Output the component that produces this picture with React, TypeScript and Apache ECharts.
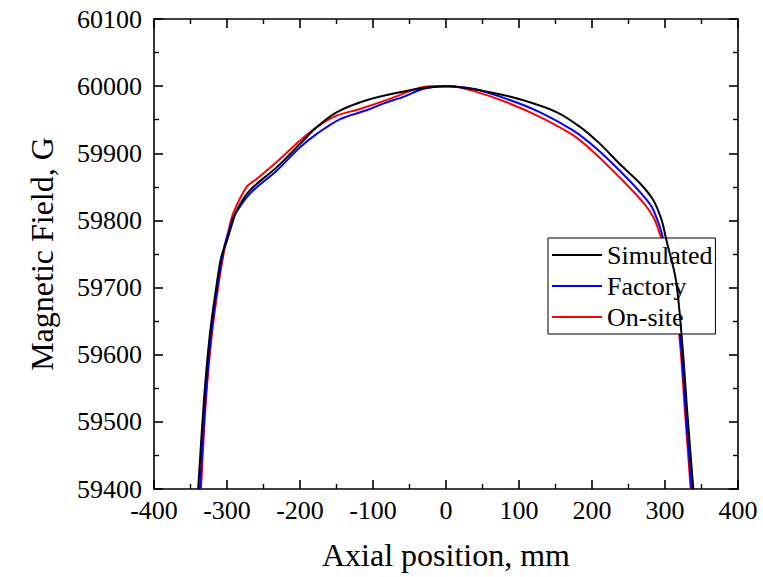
import React, { useEffect, useRef } from "react";
import * as echarts from "echarts";

const seriesNames = ["Simulated", "Factory", "On-site"];
const seriesColors = ["#000000", "#0000ff", "#ff0000"];

const simulatedX = [-339.5, -331.5, -323.3, -314, -308, -300, -293, -286.7, -268.5, -232, -200, -177, -150, -109, -63, -26, 5, 60, 106, 152, 184, 211, 238, 266, 284, 295.5, 302, 315, 324, 330.6, 338.8];
const simulatedY = [59400, 59533, 59632, 59706, 59745, 59770, 59795, 59815, 59845, 59879, 59914, 59939, 59961, 59979, 59991, 59998, 60000, 59991, 59979, 59961, 59939, 59914, 59884, 59855, 59830, 59800, 59770, 59711, 59612, 59513, 59400];

const factoryX = [-337, -329.5, -321.5, -312.5, -304, -297, -291, -268.5, -232, -200, -177, -145, -109, -86, -58.5, -31, -4, 37, 83, 129, 174, 206, 238, 266, 282, 293, 298, 312, 322, 328.5, 336.5];
const factoryY = [59400, 59533, 59632, 59706, 59760, 59785, 59805, 59840, 59874, 59909, 59929, 59951, 59964, 59974, 59984, 59996, 60000, 59996, 59981, 59961, 59934, 59907, 59874, 59842, 59820, 59790, 59770, 59711, 59612, 59513, 59400];

const onsiteX = [-335.6, -328.8, -320.5, -311.4, -303, -298, -291, -273, -259, -232, -200, -177, -150, -118, -77, -41, -22, 5, 37, 83, 129, 174, 202, 238, 270, 284, 293, 297, 311, 321, 327.5, 335.2];
const onsiteY = [59400, 59533, 59632, 59706, 59760, 59785, 59812, 59850, 59862, 59887, 59919, 59939, 59956, 59966, 59981, 59996, 60000, 60000, 59993, 59976, 59954, 59927, 59902, 59864, 59827, 59805, 59780, 59765, 59711, 59612, 59513, 59400];

const xMin = -400, xMax = 400, xStep = 100;
const yMin = 59400, yMax = 60100, yStep = 100;

const FONT = "Liberation Serif, Times New Roman, serif";

export default function App() {
  const ref = useRef<HTMLDivElement>(null);
  useEffect(() => {
    if (!ref.current) return;
    const chart = echarts.init(ref.current, undefined, { renderer: "svg" });
    const xs = [simulatedX, factoryX, onsiteX];
    const ys = [simulatedY, factoryY, onsiteY];
    const axisLine = { show: true, onZero: false, lineStyle: { color: "#000", width: 1.6 } };
    const tick = { show: true, inside: true, length: 9, lineStyle: { color: "#000", width: 1.6 } };
    const minor = { show: true, splitNumber: 2, length: 5, lineStyle: { color: "#000", width: 1.4 } };
    const labelStyle = { fontFamily: FONT, fontSize: 26, color: "#000" };
    chart.setOption({
      animation: false,
      backgroundColor: "#ffffff",
      textStyle: { fontFamily: FONT },
      grid: { left: 154, right: 25, top: 19, bottom: 88, containLabel: false },
      legend: {
        orient: "vertical",
        left: 548,
        top: 238,
        data: seriesNames,
        itemWidth: 50,
        itemHeight: 2,
        itemGap: 5,
        padding: [4, 3, 4, 4],
        borderColor: "#000",
        borderWidth: 1,
        borderRadius: 0,
        backgroundColor: "#ffffff",
        icon: "rect",
        textStyle: { fontFamily: FONT, fontSize: 26, color: "#000", lineHeight: 26 },
      },
      xAxis: [
        {
          type: "value",
          min: xMin,
          max: xMax,
          interval: xStep,
          position: "bottom",
          name: "Axial position, mm",
          nameLocation: "middle",
          nameGap: 50,
          nameTextStyle: { fontFamily: FONT, fontSize: 32, color: "#000" },
          axisLine,
          axisTick: tick,
          minorTick: minor,
          splitLine: { show: false },
          axisLabel: { ...labelStyle, margin: 8, formatter: (v: number) => String(v) },
        },
        {
          type: "value",
          min: xMin,
          max: xMax,
          interval: xStep,
          position: "top",
          axisLine,
          axisTick: tick,
          minorTick: minor,
          splitLine: { show: false },
          axisLabel: { show: false },
        },
      ],
      yAxis: [
        {
          type: "value",
          min: yMin,
          max: yMax,
          interval: yStep,
          position: "left",
          name: "Magnetic Field, G",
          nameLocation: "middle",
          nameGap: 96,
          nameTextStyle: { fontFamily: FONT, fontSize: 32, color: "#000" },
          axisLine,
          axisTick: tick,
          minorTick: minor,
          splitLine: { show: false },
          axisLabel: { ...labelStyle, margin: 12, formatter: (v: number) => String(v) },
        },
        {
          type: "value",
          min: yMin,
          max: yMax,
          interval: yStep,
          position: "right",
          axisLine,
          axisTick: tick,
          minorTick: minor,
          splitLine: { show: false },
          axisLabel: { show: false },
        },
      ],
      series: seriesNames.map((name, i) => ({
        name,
        type: "line",
        xAxisIndex: 0,
        yAxisIndex: 0,
        data: xs[i].map((x, j) => [x, ys[i][j]]),
        showSymbol: false,
        symbol: "none",
        smooth: 0.3,
        clip: true,
        color: seriesColors[i],
        lineStyle: { color: seriesColors[i], width: 2 },
        itemStyle: { color: seriesColors[i] },
        z: 4 - i,
      })),
    });
    return () => chart.dispose();
  }, []);
  return (
    <div
      ref={ref}
      style={{ position: "absolute", left: 0, top: 0, width: 763, height: 577 }}
    />
  );
}
